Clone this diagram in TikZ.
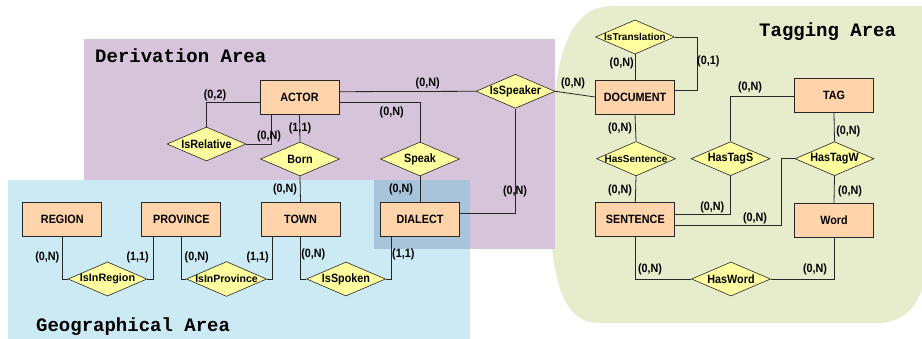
\documentclass[tikz,border=0pt]{standalone}
\usepackage{fontspec}
\setmainfont[FakeStretch=0.9]{Liberation Sans}
\newfontfamily\widesans{Liberation Sans}
\newfontfamily\areafont{Liberation Mono}
\usetikzlibrary{shapes.geometric,calc}

\definecolor{tagfill}{HTML}{E6ECCC}
\definecolor{derivfill}{HTML}{D6C4DA}
\definecolor{geofill}{HTML}{CCEAF4}
\definecolor{overlapfill}{HTML}{A8C4DA}
\definecolor{entityfill}{HTML}{FFD4AA}
\definecolor{relfill}{HTML}{FFFFA0}

\tikzset{
  entity/.style={draw=black!85, fill=entityfill, line width=0.8pt,
    minimum width=79pt, minimum height=34pt, inner sep=0pt,
    font=\fontsize{12}{12}\selectfont\bfseries},
  relation/.style={diamond, draw=black!85, fill=relfill, line width=0.6pt,
    minimum width=79pt, minimum height=34pt, shape aspect=2.3, inner sep=0pt,
    font=\fontsize{12}{12}\selectfont\bfseries},
  smallrel/.style={font=\fontsize{#1}{#1}\selectfont\widesans\bfseries},
  card/.style={inner sep=0pt, font=\fontsize{12}{12}\selectfont\bfseries},
  area/.style={anchor=base west, inner sep=0pt,
    font=\fontsize{19}{19}\selectfont\areafont\bfseries},
  link/.style={draw=black!85, line width=0.8pt}
}

\begin{document}
\begin{tikzpicture}[x=1pt, y=-1pt]
    \useasboundingbox (0,0) rectangle (922,339);

    % Areas
    \fill[tagfill] (612,6) -- (930,6) -- (930,262)
        .. controls (922,305) and (905,323) .. (877,323) -- (598,323)
        .. controls (568,323) and (551,290) .. (550,210)
        .. controls (550,90) and (556,6) .. (612,6) -- cycle;
    \fill[derivfill] (84,39) rectangle (555,249);
    \fill[geofill] (8,180) rectangle (470,339);
    \fill[overlapfill] (374,180) rectangle (470,249);

    \node[area] (derivTitle) at (95,63) {Derivation Area};
    \node[area] (geoTitle) at (36,331.5) {Geographical Area};
    \node[area] (tagTitle) at (759,37) {Tagging Area};

    % Entities
    \node[entity] (actor) at (299.5,97.5) {ACTOR};
    \node[entity] (region) at (62.3,219.7) {REGION};
    \node[entity] (province) at (181.3,219.7) {PROVINCE};
    \node[entity] (town) at (300.5,219.7) {TOWN};
    \node[entity] (dialect) at (420,219.7) {DIALECT};
    \node[entity] (document) at (635,97) {DOCUMENT};
    \node[entity] (tag) at (834,95.3) {TAG};
    \node[entity] (sentence) at (635.3,219.7) {SENTENCE};
    \node[entity] (word) at (834,220.3) {Word};

    % Relations
    \node[relation] (isRelative) at (206.5,144) {IsRelative};
    \node[relation] (born) at (300,159) {Born};
    \node[relation] (speak) at (420,159) {Speak};
    \node[relation] (isSpeaker) at (515.5,91.3) {IsSpeaker};
    \node[relation, smallrel=10] (isTranslation) at (635,37) {IsTranslation};
    \node[relation, smallrel=10] (hasSentence) at (636,158.7) {HasSentence};
    \node[relation] (hasTagS) at (730.5,158.7) {HasTagS};
    \node[relation] (hasTagW) at (834.5,158.7) {HasTagW};
    \node[relation, smallrel=10.8] (isInRegion) at (107.5,279) {IsInRegion};
    \node[relation, smallrel=10.5] (isInProvince) at (226.5,279) {IsInProvince};
    \node[relation] (isSpoken) at (346,279) {IsSpoken};
    \node[relation] (hasWord) at (731,279) {HasWord};

    % Derivation links
    \draw[link] ($(actor.west)+(0,4.5)$) -| (isRelative.north);
    \draw[link] ($(actor.south)+(-28,0)$) |- (isRelative.east);
    \draw[link] (actor.south) -- (born.north);
    \draw[link] (born.south) -- (town.north);
    \draw[link] ($(actor.east)+(0,-5.8)$) -- (isSpeaker.west);
    \draw[link] ($(actor.east)+(0,4.8)$) -| (speak.north);
    \draw[link] (speak.south) -- (dialect.north);
    \draw[link] (isSpeaker.south) |- ($(dialect.east)+(0,-6.4)$);
    \draw[link] (isSpeaker.east) -- (document.west);

    % Tagging links
    \draw[link] (isTranslation.south) -- (document.north);
    \draw[link] (isTranslation.east) -| (697.3,64) |- ($(document.east)+(0,-6.3)$);
    \draw[link] (document.south) -- (hasSentence.north);
    \draw[link] (hasSentence.south) -- (sentence.north);
    \draw[link] ($(tag.west)+(0,0.7)$) -| (hasTagS.north);
    \draw[link] (tag.south) -- (hasTagW.north);
    \draw[link] (hasTagS.south) |- ($(sentence.east)+(0,-5.7)$);
    \draw[link] (hasTagW.west) -| (781.7,190) |- ($(sentence.east)+(0,5.3)$);
    \draw[link] (hasTagW.south) -- (word.north);
    \draw[link] (sentence.south) |- (hasWord.west);
    \draw[link] (word.south) |- (hasWord.east);

    % Geographical links
    \draw[link] (region.south) |- (isInRegion.west);
    \draw[link] ($(province.south)+(-28,0)$) |- (isInRegion.east);
    \draw[link] (province.south) |- (isInProvince.west);
    \draw[link] ($(town.south)+(-28,0)$) |- (isInProvince.east);
    \draw[link] (town.south) |- (isSpoken.west);
    \draw[link] ($(dialect.south)+(-29,0)$) |- (isSpoken.east);

    % Cardinalities
    \foreach \x/\y/\a/\b [count=\i] in {215/95.7/0/2, 269/136/0/N, 300/128.7/1/1,
        285/189/0/N, 427.7/83.3/0/N, 391.7/112.3/0/N, 401/189.3/0/N,
        515/191.7/0/N, 573/83/0/N, 621.7/63.3/0/N, 708.3/61.7/0/1,
        620/128.3/0/N, 620/190.7/0/N, 750/87.3/0/N, 848.3/131.7/0/N,
        712.3/207.3/0/N, 755/218.3/0/N, 850/191.7/0/N, 650/269.3/0/N,
        815/269.3/0/N, 47.3/257.7/0/N, 137.7/257.7/1/1, 196.7/257.7/0/N,
        257.7/257.7/1/1, 313.3/254/0/N, 403.3/254/1/1} {
        \node[card] (card\i) at (\x,\y) {(\a,\b)};
    }
\end{tikzpicture}
\end{document}
